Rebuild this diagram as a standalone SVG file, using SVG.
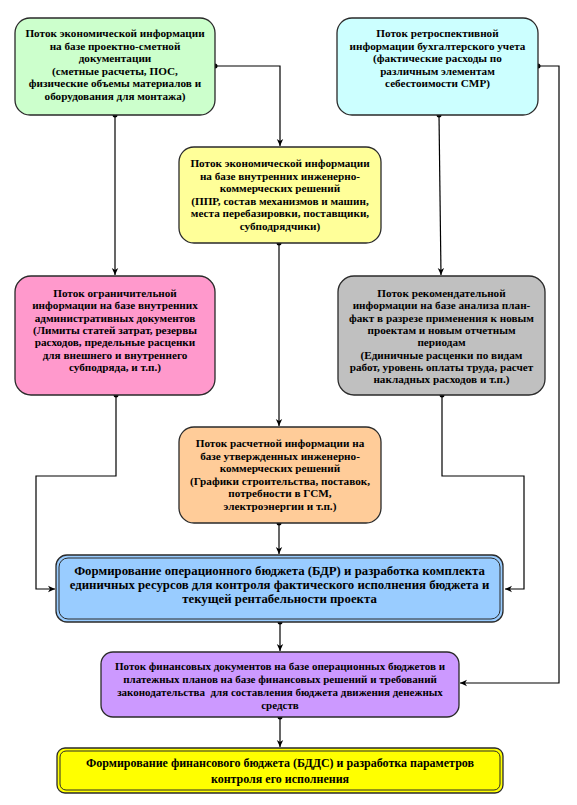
<svg xmlns="http://www.w3.org/2000/svg" width="577" height="805" viewBox="0 0 577 805">
<defs>
<marker id="arr" markerUnits="userSpaceOnUse" markerWidth="8" markerHeight="8" refX="7" refY="4" orient="auto">
<path d="M0,0.8 L7,4 L0,7.2 L2,4 Z" fill="#000"/>
</marker>
<style>
.box{stroke:#2a2a2a;stroke-width:1.3}
.t{font-size:11.2px}
.tb{font-size:12.8px}
.tf{font-size:12px}
.tm{font-size:11px}
.c{fill:none;stroke:#000;stroke-width:1.2}
.d{fill:#000}
</style>
</defs>
<rect width="577" height="805" fill="#fff"/>

<g id="connectors">
<path class="c" d="M215,66 H280 V146" marker-end="url(#arr)"/>
<path class="c" d="M115,115 V275" marker-end="url(#arr)"/>
<path class="c" d="M439,115 L441,275" marker-end="url(#arr)"/>
<path class="c" d="M538,66 H559 V683 H460" marker-end="url(#arr)"/>
<path class="c" d="M279,243 V426" marker-end="url(#arr)"/>
<path class="c" d="M116,395 V476 H36 V589 H55" marker-end="url(#arr)"/>
<path class="c" d="M442,395 V476 H524 V589 H505" marker-end="url(#arr)"/>
<path class="c" d="M279,523 V554" marker-end="url(#arr)"/>
<path class="c" d="M280,622 V651" marker-end="url(#arr)"/>
<path class="c" d="M280,717 V747" marker-end="url(#arr)"/>
<circle class="d" cx="215" cy="66" r="2.5"/>
<circle class="d" cx="115" cy="115" r="2.5"/>
<circle class="d" cx="439" cy="115" r="2.5"/>
<circle class="d" cx="538" cy="66" r="2.5"/>
<circle class="d" cx="279" cy="243" r="2.5"/>
<circle class="d" cx="116" cy="395" r="2.5"/>
<circle class="d" cx="442" cy="395" r="2.5"/>
<circle class="d" cx="279" cy="523" r="2.5"/>
<circle class="d" cx="280" cy="622" r="2.5"/>
<circle class="d" cx="280" cy="717" r="2.5"/>
</g>

<g font-family="Liberation Serif, Times New Roman, serif" font-weight="bold" fill="#000" text-anchor="middle">

<g id="node-green">
<rect class="box" x="15" y="18" width="200" height="97" rx="15" fill="#ccffcc"/>
<text class="t" x="115" y="37">Поток экономической информации</text>
<text class="t" x="115" y="49.5">на базе проектно-сметной</text>
<text class="t" x="115" y="62">документации</text>
<text class="t" x="115" y="74.5">(сметные расчеты, ПОС,</text>
<text class="t" x="115" y="87">физические объемы материалов и</text>
<text class="t" x="115" y="99.5">оборудования для монтажа)</text>
</g>

<g id="node-cyan">
<rect class="box" x="337" y="18" width="201" height="97" rx="15" fill="#ccffff"/>
<text class="t" x="437.5" y="37">Поток ретроспективной</text>
<text class="t" x="437.5" y="49.5">информации бухгалтерского учета</text>
<text class="t" x="437.5" y="62">(фактические расходы по</text>
<text class="t" x="437.5" y="74.5">различным элементам</text>
<text class="t" x="437.5" y="87">себестоимости СМР)</text>
</g>

<g id="node-yellow">
<rect class="box" x="179" y="147" width="202" height="96" rx="15" fill="#ffff99"/>
<text class="t" x="280" y="167">Поток экономической информации</text>
<text class="t" x="280" y="179.5">на базе внутренних инженерно-</text>
<text class="t" x="280" y="192">коммерческих решений</text>
<text class="t" x="280" y="204.5">(ППР, состав механизмов и машин,</text>
<text class="t" x="280" y="217">места перебазировки, поставщики,</text>
<text class="t" x="280" y="229.5">субподрядчики)</text>
</g>

<g id="node-pink">
<rect class="box" x="15" y="276" width="200" height="119" rx="16" fill="#ff99cc"/>
<text class="t" x="115" y="297">Поток ограничительной</text>
<text class="t" x="115" y="309.3">информации на базе внутренних</text>
<text class="t" x="115" y="321.6">административных документов</text>
<text class="t" x="115" y="333.9">(Лимиты статей затрат, резервы</text>
<text class="t" x="115" y="346.2">расходов, предельные расценки</text>
<text class="t" x="115" y="358.5">для внешнего и внутреннего</text>
<text class="t" x="115" y="370.8">субподряда, и т.п.)</text>
</g>

<g id="node-gray">
<rect class="box" x="338" y="276" width="207" height="119" rx="16" fill="#c0c0c0"/>
<text class="t" x="441.5" y="297">Поток рекомендательной</text>
<text class="t" x="441.5" y="309.3">информации на базе анализа план-</text>
<text class="t" x="441.5" y="321.6">факт в разрезе применения к новым</text>
<text class="t" x="441.5" y="333.9">проектам и новым отчетным</text>
<text class="t" x="441.5" y="346.2">периодам</text>
<text class="t" x="441.5" y="358.5">(Единичные расценки по видам</text>
<text class="t" x="441.5" y="370.8">работ, уровень оплаты труда, расчет</text>
<text class="t" x="441.5" y="383.1">накладных расходов и т.п.)</text>
</g>

<g id="node-orange">
<rect class="box" x="179" y="427" width="202" height="96" rx="15" fill="#ffcc99"/>
<text class="t" x="280" y="447">Поток расчетной информации на</text>
<text class="t" x="280" y="459.5">базе утвержденных инженерно-</text>
<text class="t" x="280" y="472">коммерческих решений</text>
<text class="t" x="280" y="484.5">(Графики строительства, поставок,</text>
<text class="t" x="280" y="497">потребности в ГСМ,</text>
<text class="t" x="280" y="509.5">электроэнергии и т.п.)</text>
</g>

<g id="node-blue">
<rect class="box" x="56" y="555" width="447" height="67" rx="11" fill="#99ccff" stroke-width="1.6"/>
<rect x="59" y="558" width="441" height="61" rx="9" fill="none" stroke="#2a2a2a" stroke-width="1"/>
<text class="tb" x="279.5" y="574.5">Формирование операционного бюджета (БДР) и разработка комплекта</text>
<text class="tb" x="279.5" y="588.5">единичных ресурсов для контроля фактического исполнения бюджета и</text>
<text class="tb" x="279.5" y="602.5">текущей рентабельности проекта</text>
</g>

<g id="node-purple">
<rect class="box" x="101" y="652" width="358" height="65" rx="12" fill="#cc99ff"/>
<text class="tm" x="280" y="670">Поток финансовых документов на базе операционных бюджетов и</text>
<text class="tm" x="280" y="683">платежных планов на базе финансовых решений и требований</text>
<text class="tm" x="280" y="696" xml:space="preserve">законодательства  для составления бюджета движения денежных</text>
<text class="tm" x="280" y="709">средств</text>
</g>

<g id="node-final">
<rect class="box" x="57" y="748" width="446" height="45" rx="8" fill="#ffff00" stroke-width="1.6"/>
<rect x="60" y="751" width="440" height="39" rx="6" fill="none" stroke="#2a2a2a" stroke-width="1"/>
<text class="tf" x="280" y="767">Формирование финансового бюджета (БДДС) и разработка параметров</text>
<text class="tf" x="280" y="783">контроля его исполнения</text>
</g>

</g>
</svg>
